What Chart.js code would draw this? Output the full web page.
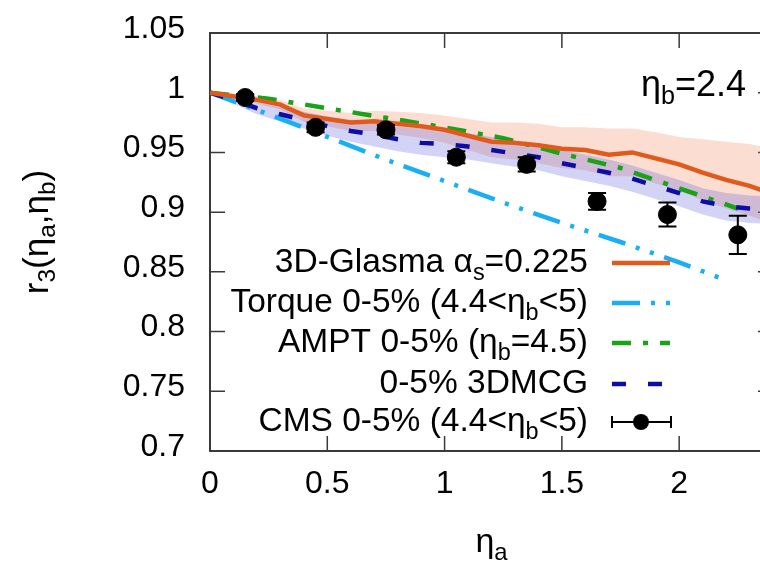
<!DOCTYPE html>
<html>
<head>
<meta charset="utf-8">
<script src="https://cdn.jsdelivr.net/npm/chart.js@4.4.0/dist/chart.umd.min.js"></script>
<style>
  html, body { margin: 0; padding: 0; overflow: hidden; background: #fff; }
  #wrap { width: 790px; height: 563px; }
</style>
</head>
<body>
<div id="wrap"><canvas id="chart" width="790" height="563"></canvas></div>
<script>
// eta_a grid of the model curves
const xGrid = [0, 0.1, 0.2, 0.3, 0.4, 0.5, 0.6, 0.7, 0.8, 0.9, 1.0, 1.1, 1.2, 1.3, 1.4, 1.5, 1.6, 1.7, 1.8, 1.9, 2.0, 2.1, 2.2, 2.3, 2.4];

// 3D-Glasma (line + band)
const glasma      = [1.000, 0.997, 0.994, 0.990, 0.981, 0.978, 0.975, 0.976, 0.974, 0.972, 0.969, 0.964, 0.959, 0.958, 0.956, 0.953, 0.952, 0.948, 0.950, 0.945, 0.940, 0.933, 0.927, 0.922, 0.915];
const glasmaUpper = [1.000, 0.999, 0.997, 0.994, 0.987, 0.985, 0.983, 0.985, 0.984, 0.983, 0.981, 0.978, 0.975, 0.975, 0.974, 0.971, 0.971, 0.970, 0.970, 0.967, 0.963, 0.961, 0.959, 0.957, 0.953];
const glasmaLower = [1.000, 0.995, 0.991, 0.986, 0.976, 0.972, 0.968, 0.968, 0.965, 0.962, 0.958, 0.952, 0.946, 0.944, 0.941, 0.937, 0.935, 0.930, 0.930, 0.924, 0.918, 0.910, 0.903, 0.897, 0.890];

// 3DMCG (line + band)
const mcg      = [1.000, 0.994, 0.987, 0.982, 0.977, 0.972, 0.968, 0.965, 0.961, 0.958, 0.957, 0.955, 0.952, 0.949, 0.946, 0.941, 0.937, 0.933, 0.928, 0.922, 0.916, 0.909, 0.905, 0.903, 0.902];
const mcgUpper = [1.000, 0.997, 0.992, 0.988, 0.984, 0.980, 0.977, 0.975, 0.972, 0.970, 0.968, 0.966, 0.963, 0.960, 0.957, 0.952, 0.948, 0.944, 0.939, 0.933, 0.927, 0.920, 0.916, 0.914, 0.913];
const mcgLower = [1.000, 0.991, 0.982, 0.976, 0.970, 0.964, 0.959, 0.955, 0.951, 0.948, 0.946, 0.944, 0.941, 0.938, 0.935, 0.930, 0.926, 0.922, 0.917, 0.911, 0.905, 0.898, 0.893, 0.891, 0.890];

// Torque
const torqueX = [0, 0.25, 0.5, 0.75, 1.0, 1.25, 1.5, 1.75, 2.0, 2.2];
const torque  = [1.000, 0.982, 0.963, 0.944, 0.926, 0.908, 0.891, 0.875, 0.858, 0.843];

// AMPT
const amptX = [0, 0.25, 0.5, 0.75, 1.0, 1.25, 1.5, 1.75, 2.0, 2.25];
const ampt  = [1.000, 0.995, 0.987, 0.979, 0.971, 0.962, 0.949, 0.937, 0.920, 0.903];

// CMS data
const cmsX   = [0.15, 0.45, 0.75, 1.05, 1.35, 1.65, 1.95, 2.25];
const cmsY   = [0.996, 0.971, 0.969, 0.946, 0.940, 0.909, 0.898, 0.881];
const cmsErr = [0.003, 0.004, 0.004, 0.005, 0.006, 0.007, 0.010, 0.016];

const xTicks = [0, 0.5, 1, 1.5, 2];
const yTicks = [0.7, 0.75, 0.8, 0.85, 0.9, 0.95, 1.0, 1.05];

const FONT = '"Liberation Sans", Arial, Helvetica, sans-serif';

// legend text pieces: [text, isSubscript]
const legendLabels = [
    [['3D-Glasma α'], ['s', 1], ['=0.225']],
    [['Torque 0-5% (4.4<η'], ['b', 1], ['<5)']],
    [['AMPT 0-5% (η'], ['b', 1], ['=4.5)']],
    [['0-5% 3DMCG']],
    [['CMS 0-5% (4.4<η'], ['b', 1], ['<5)']]
];

function pts(xs, ys) {
    return xs.map((x, i) => ({x: x, y: ys[i]}));
}

function richText(ctx, parts, x, y, size, align) {
    let w = 0;
    parts.forEach(p => {
        ctx.font = (p[1] ? size * 0.7 : size) + 'px ' + FONT;
        w += ctx.measureText(p[0]).width;
    });
    let cx = align === 'right' ? x - w : (align === 'center' ? x - w / 2 : x);
    ctx.textAlign = 'left';
    ctx.textBaseline = 'middle';
    parts.forEach(p => {
        ctx.font = (p[1] ? size * 0.7 : size) + 'px ' + FONT;
        ctx.fillText(p[0], cx, p[1] ? y + size * 0.3 : y);
        cx += ctx.measureText(p[0]).width;
    });
}

const ORANGE = '#e05a1c';
const SKY = '#1aaef2';
const GREEN = '#19a319';
const NAVY = '#0c0ca6';

const datasets = [
    {label: 'glasma band', data: pts(xGrid, glasmaUpper), borderWidth: 0, pointRadius: 0,
     backgroundColor: 'rgba(240,120,70,0.25)', fill: '+1', order: 10},
    {label: 'glasma low', data: pts(xGrid, glasmaLower), borderWidth: 0, pointRadius: 0, fill: false, order: 10},
    {label: 'mcg band', data: pts(xGrid, mcgUpper), borderWidth: 0, pointRadius: 0,
     backgroundColor: 'rgba(80,80,220,0.25)', fill: '+1', order: 9},
    {label: 'mcg low', data: pts(xGrid, mcgLower), borderWidth: 0, pointRadius: 0, fill: false, order: 9},
    {label: 'Torque', data: pts(torqueX, torque), borderColor: SKY, borderWidth: 4.5,
     borderDash: [28, 11, 4, 11, 4, 11], pointRadius: 0, fill: false, order: 5},
    {label: 'AMPT', data: pts(amptX, ampt), borderColor: GREEN, borderWidth: 4.5,
     borderDash: [19, 12, 5, 12], pointRadius: 0, fill: false, order: 4},
    {label: '3DMCG', data: pts(xGrid, mcg), borderColor: NAVY, borderWidth: 4.5,
     borderDash: [14, 22], pointRadius: 0, fill: false, order: 3},
    {label: '3D-Glasma', data: pts(xGrid, glasma), borderColor: ORANGE, borderWidth: 4.5,
     pointRadius: 0, fill: false, order: 2},
    {label: 'CMS', type: 'scatter', data: pts(cmsX, cmsY), showLine: false,
     pointRadius: 9, pointBackgroundColor: '#000', pointBorderColor: '#000', order: 0}
];
const legendSets = [7, 4, 5, 6, 8];
const CMS_INDEX = 8;

const gnuplotFrame = {
    id: 'gnuplotFrame',
    beforeDatasetsDraw(chart) {
        const ctx = chart.ctx, a = chart.chartArea;
        const xs = chart.scales.x, ys = chart.scales.y;
        ctx.save();
        ctx.strokeStyle = '#3a3a3a';
        ctx.lineWidth = 1.5;
        ctx.beginPath();
        xTicks.forEach(v => {
            const px = xs.getPixelForValue(v);
            ctx.moveTo(px, a.bottom); ctx.lineTo(px, a.bottom - 15);
            ctx.moveTo(px, a.top); ctx.lineTo(px, a.top + 15);
        });
        yTicks.forEach(v => {
            const py = ys.getPixelForValue(v);
            ctx.moveTo(a.left, py); ctx.lineTo(a.left + 15, py);
            ctx.moveTo(a.right, py); ctx.lineTo(a.right - 15, py);
        });
        ctx.stroke();
        ctx.lineWidth = 2;
        ctx.strokeRect(a.left, a.top, a.right - a.left, a.bottom - a.top);
        ctx.restore();
    },
    beforeDatasetDraw(chart, args) {
        if (args.index !== CMS_INDEX) return;
        const ctx = chart.ctx;
        const xs = chart.scales.x, ys = chart.scales.y;
        ctx.save();
        ctx.strokeStyle = '#000';
        ctx.lineWidth = 2;
        ctx.beginPath();
        cmsX.forEach((x, i) => {
            const px = xs.getPixelForValue(x);
            const y1 = ys.getPixelForValue(cmsY[i] + cmsErr[i]);
            const y2 = ys.getPixelForValue(cmsY[i] - cmsErr[i]);
            ctx.moveTo(px, y1); ctx.lineTo(px, y2);
            ctx.moveTo(px - 9, y1); ctx.lineTo(px + 9, y1);
            ctx.moveTo(px - 9, y2); ctx.lineTo(px + 9, y2);
        });
        ctx.stroke();
        ctx.restore();
    },
    afterDraw(chart) {
        const ctx = chart.ctx, a = chart.chartArea;
        ctx.save();
        ctx.fillStyle = '#000';
        // axis titles
        richText(ctx, [['η'], ['a', 1]], (a.left + a.right) / 2, 543, 34, 'center');
        ctx.save();
        ctx.translate(38, (a.top + a.bottom) / 2 - 10);
        ctx.rotate(-Math.PI / 2);
        richText(ctx, [['r'], ['3', 1], ['(η'], ['a', 1], [',η'], ['b', 1], [')']], 0, 0, 35, 'center');
        ctx.restore();
        // eta_b label
        richText(ctx, [['η'], ['b', 1], ['=2.4']], 746, 86, 36, 'right');

        // legend
        const rows = [263, 303, 343, 384, 422];
        legendSets.forEach((di, r) => {
            const ds = chart.data.datasets[di];
            const y = rows[r];
            ctx.fillStyle = '#000';
            richText(ctx, legendLabels[r], 588, y, 33.5, 'right');
            if (di === CMS_INDEX) {
                ctx.strokeStyle = '#000';
                ctx.lineWidth = 2;
                ctx.beginPath();
                ctx.moveTo(612, y); ctx.lineTo(671, y);
                ctx.moveTo(612, y - 6); ctx.lineTo(612, y + 6);
                ctx.moveTo(671, y - 6); ctx.lineTo(671, y + 6);
                ctx.stroke();
                ctx.beginPath();
                ctx.arc(641, y, 8, 0, Math.PI * 2);
                ctx.fill();
            } else {
                ctx.strokeStyle = ds.borderColor;
                ctx.lineWidth = ds.borderWidth;
                ctx.setLineDash(ds.borderDash || []);
                ctx.beginPath();
                ctx.moveTo(612, y); ctx.lineTo(670, y);
                ctx.stroke();
                ctx.setLineDash([]);
            }
        });
        ctx.restore();
    }
};

new Chart(document.getElementById('chart').getContext('2d'), {
    type: 'line',
    data: {datasets: datasets},
    options: {
        responsive: false,
        animation: false,
        devicePixelRatio: 1,
        layout: {padding: {left: 0, top: 33, right: 17, bottom: 0}},
        plugins: {legend: {display: false}, tooltip: {enabled: false}},
        elements: {line: {tension: 0}},
        scales: {
            x: {
                type: 'linear', min: 0, max: 2.4,
                grid: {display: false, drawTicks: false},
                border: {display: false},
                afterBuildTicks: s => { s.ticks = xTicks.map(v => ({value: v})); },
                afterFit: s => { s.height = 112; },
                ticks: {color: '#000', padding: 14, maxRotation: 0, autoSkip: false,
                        font: {family: FONT, size: 32}, callback: v => String(v)}
            },
            y: {
                type: 'linear', min: 0.7, max: 1.05,
                grid: {display: false, drawTicks: false},
                border: {display: false},
                afterBuildTicks: s => { s.ticks = yTicks.map(v => ({value: v})); },
                afterFit: s => { s.width = 210; },
                // second empty line lifts the label a few px, as in the original
                ticks: {color: '#000', padding: 25, autoSkip: false,
                        font: {family: FONT, size: 32, lineHeight: 0.25},
                        callback: v => [String(+v.toFixed(2)), '']}
            }
        }
    },
    plugins: [gnuplotFrame]
});
</script>
</body>
</html>
